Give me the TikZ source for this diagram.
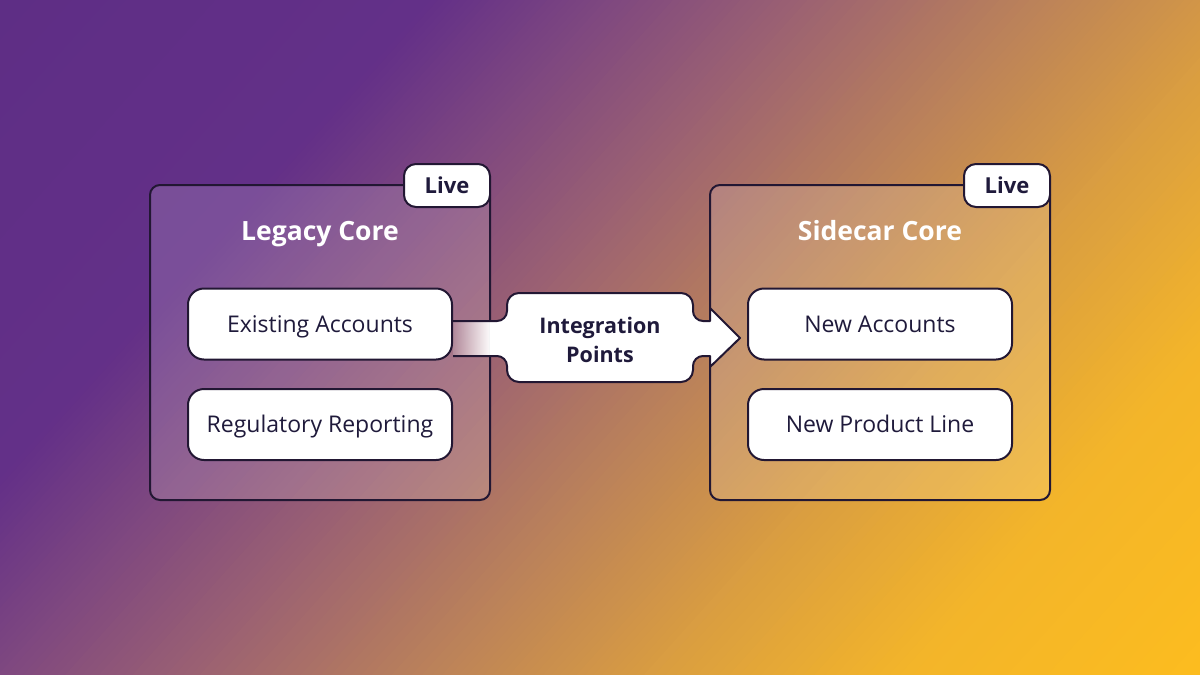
\documentclass[tikz,border=0pt]{standalone}
\usepackage{fontspec}
\setmainfont{Open Sans}
\usetikzlibrary{fadings}
\definecolor{s0}{HTML}{5E2E85}
\definecolor{s1}{HTML}{633088}
\definecolor{s2}{HTML}{7E4780}
\definecolor{s3}{HTML}{9C6272}
\definecolor{s4}{HTML}{BD8458}
\definecolor{s5}{HTML}{D89C42}
\definecolor{s6}{HTML}{F3B52A}
\definecolor{s7}{HTML}{FDBD1E}
\definecolor{ink}{HTML}{1F1A3B}
\definecolor{edge}{HTML}{221733}
\tikzfading[name=shaftfade, left color=transparent!85, right color=transparent!0]
\begin{document}
\begin{tikzpicture}[x=1pt,y=-1pt,
  core/.style={draw=edge, line width=2pt, rounded corners=10pt, fill=white, fill opacity=0.15,
    minimum width=340pt, minimum height=315pt, inner sep=0pt},
  item/.style={draw=edge, line width=2pt, rounded corners=16pt, fill=white, minimum width=264pt,
    minimum height=71pt, text=ink, font=\fontsize{23}{27}\selectfont, inner sep=0pt,
    text height=16.5pt, text depth=0pt},
  badge/.style={draw=edge, line width=2pt, rounded corners=12pt, fill=white, minimum width=86pt,
    minimum height=43pt, text=ink, font=\bfseries\fontsize{22}{25}\selectfont, inner sep=0pt,
    text height=15.5pt, text depth=0pt},
  title/.style={text=white, font=\bfseries\fontsize{26.5}{30}\selectfont, inner sep=0pt, anchor=base},
  arrowline/.style={draw=edge, line width=2pt, line join=round},
  lbl/.style={text=ink, font=\bfseries\fontsize{21.5}{29}\selectfont, align=center, inner sep=0pt}
]
\useasboundingbox (0,0) rectangle (1200,675);
% background gradient
\begin{scope}
  \clip (0,0) rectangle (1200,675);
  \begin{scope}[rotate=-42]
    \foreach \a/\b/\ca/\cb in {0/320/s0/s1, 320/450/s1/s2, 450/600/s2/s3, 600/780/s3/s4,
                               780/930/s4/s5, 930/1120/s5/s6, 1120/1360/s6/s7}{
      \foreach \i in {0,...,23}{
        \pgfmathsetmacro\dd{\a+(\b-\a)*\i/24}
        \pgfmathsetmacro\ww{(\b-\a)/24+1}
        \pgfmathsetmacro\pp{100*(\i+0.5)/24}
        \fill[fill={\cb!\pp!\ca}] (\dd,-1200) rectangle ++(\ww,2400);
      }
    }
  \end{scope}
\end{scope}

% core boxes
\node[core] (legacy) at (320,342.5) {};
\node[core] (sidecar) at (880,342.5) {};
\node[title] (legacyT) at (320,240) {Legacy Core};
\node[title] (sidecarT) at (880,240) {Sidecar Core};

% items
\node[item] (exist) at (320,324) {Existing Accounts};
\node[item] (reg) at (320,424.5) {Regulatory Reporting};
\node[item] (newacc) at (880,324) {New Accounts};
\node[item] (newprod) at (880,424.5) {New Product Line};

% badges
\node[badge] (live1) at (447,185.5) {Live};
\node[badge] (live2) at (1007,185.5) {Live};

% integration arrow
\coordinate (sTop) at (exist.east |- 0,321);
\coordinate (sBot) at (exist.east |- 0,356);
\fill[white] (490,321) -- (497,321) .. controls (502.5,321) and (507,316.5) .. (507,311)
  -- (507,305) .. controls (507,298.4) and (512.4,293) .. (519,293)
  -- (681,293) .. controls (687.6,293) and (693,298.4) .. (693,305)
  -- (693,311) .. controls (693,316.5) and (697.5,321) .. (703,321)
  -- (710,321) -- (710,308) -- (740,338) -- (710,367) -- (710,356)
  -- (703,356) .. controls (697.5,356) and (693,360.5) .. (693,366)
  -- (693,370) .. controls (693,376.6) and (687.6,382) .. (681,382)
  -- (519,382) .. controls (512.4,382) and (507,376.6) .. (507,370)
  -- (507,366) .. controls (507,360.5) and (502.5,356) .. (497,356)
  -- (490,356) -- cycle;
\fill[white, path fading=shaftfade] (453,321) rectangle (491,356);
\draw[arrowline] (sTop) -- (497,321) .. controls (502.5,321) and (507,316.5) .. (507,311)
  -- (507,305) .. controls (507,298.4) and (512.4,293) .. (519,293)
  -- (681,293) .. controls (687.6,293) and (693,298.4) .. (693,305)
  -- (693,311) .. controls (693,316.5) and (697.5,321) .. (703,321)
  -- (710,321) -- (710,308) -- (740,338) -- (710,367) -- (710,356)
  -- (703,356) .. controls (697.5,356) and (693,360.5) .. (693,366)
  -- (693,370) .. controls (693,376.6) and (687.6,382) .. (681,382)
  -- (519,382) .. controls (512.4,382) and (507,376.6) .. (507,370)
  -- (507,366) .. controls (507,360.5) and (502.5,356) .. (497,356)
  -- (sBot);
\node[lbl] (integ) at (600,339.5) {Integration\\Points};
\end{tikzpicture}
\end{document}
